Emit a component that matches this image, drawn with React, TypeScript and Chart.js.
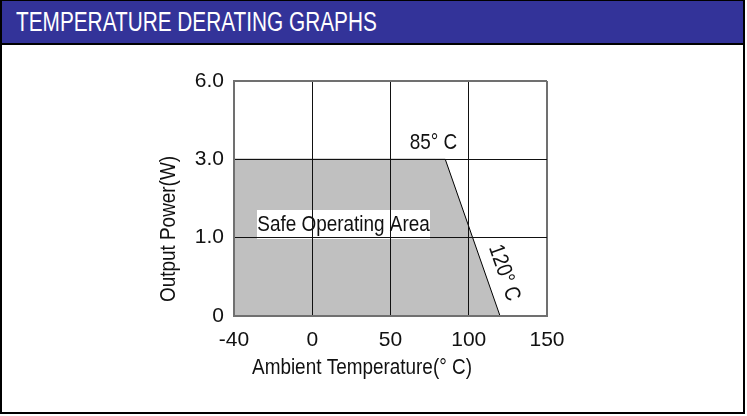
import React, { useEffect, useRef } from 'react';
import { Chart, registerables } from 'chart.js';

Chart.register(...registerables);

// ---- data ----
const TEMP_TICKS = [-40, 0, 50, 100, 150];
const TEMP_TICK_LABELS = ['-40', '0', '50', '100', '150'];
const POWER_TICKS = [0, 1, 3, 6];
const POWER_TICK_LABELS = ['0', '1.0', '3.0', '6.0'];
const DERATING_TEMPS = [-40, 85, 120];
const DERATING_POWER = [3, 3, 0];

const TITLE = 'TEMPERATURE DERATING GRAPHS';
const X_TITLE = 'Ambient Temperature(° C)';
const Y_TITLE = 'Output Power(W)';
const AREA_LABEL = 'Safe Operating Area';
const KNEE_LABEL = '85° C';
const END_LABEL = '120° C';

const FONT = '"Liberation Sans", Arial, Helvetica, sans-serif';
const SQUEEZE = 0.86;

// piecewise-linear position of a value on an axis whose ticks are evenly spaced
function toIndex(v: number, ticks: number[]): number {
  for (let i = 0; i < ticks.length - 1; i++) {
    if (v <= ticks[i + 1] || i === ticks.length - 2) {
      return i + (v - ticks[i]) / (ticks[i + 1] - ticks[i]);
    }
  }
  return ticks.length - 1;
}

function narrowText(ctx: CanvasRenderingContext2D, text: string, x: number, y: number, rot = 0) {
  ctx.save();
  ctx.translate(x, y);
  if (rot) ctx.rotate(rot);
  ctx.scale(SQUEEZE, 1);
  ctx.fillText(text, 0, 0);
  ctx.restore();
}

const labelsPlugin = {
  id: 'deratingLabels',
  afterDatasetsDraw(chart: any) {
    const { ctx, chartArea: ca } = chart;
    ctx.save();
    // white box behind "Safe Operating Area" (grid lines drawn over it)
    const bx = ca.left + 23;
    const by = ca.top + 129;
    ctx.fillStyle = '#ffffff';
    ctx.fillRect(bx, by, 173, 29);
    ctx.fillStyle = '#111';
    ctx.font = `22px ${FONT}`;
    ctx.textAlign = 'center';
    ctx.textBaseline = 'middle';
    narrowText(ctx, AREA_LABEL, bx + 86.5, by + 15);
    ctx.restore();
  },
  afterDraw(chart: any) {
    const { ctx, chartArea: ca, scales } = chart;
    ctx.save();
    ctx.fillStyle = '#111';
    ctx.font = `22px ${FONT}`;
    ctx.textAlign = 'center';
    ctx.textBaseline = 'middle';
    narrowText(ctx, X_TITLE, ca.left + 128, ca.bottom + 52);
    narrowText(ctx, Y_TITLE, ca.left - 65, ca.top + 148, -Math.PI / 2);
    narrowText(ctx, KNEE_LABEL, ca.left + 199.5, ca.top + 61.5);
    const x1 = scales.x.getPixelForValue(toIndex(DERATING_TEMPS[1], TEMP_TICKS));
    const y1 = scales.y.getPixelForValue(toIndex(DERATING_POWER[1], POWER_TICKS));
    const x2 = scales.x.getPixelForValue(toIndex(DERATING_TEMPS[2], TEMP_TICKS));
    const y2 = scales.y.getPixelForValue(toIndex(DERATING_POWER[2], POWER_TICKS));
    const ang = Math.atan2(y2 - y1, x2 - x1);
    narrowText(ctx, END_LABEL, ca.left + 270, ca.top + 192, ang);
    ctx.restore();
  },
};

export default function App() {
  const ref = useRef<HTMLCanvasElement | null>(null);

  useEffect(() => {
    document.body.style.margin = '0';
    if (!ref.current) return;
    const points = DERATING_TEMPS.map((t, i) => ({
      x: toIndex(t, TEMP_TICKS),
      y: toIndex(DERATING_POWER[i], POWER_TICKS),
    }));
    const lastX = TEMP_TICKS.length - 1;
    const lastY = POWER_TICKS.length - 1;
    const chart = new Chart(ref.current, {
      type: 'line',
      data: {
        datasets: [
          {
            data: points,
            borderColor: '#000',
            borderWidth: 1,
            backgroundColor: '#c0c0c0',
            fill: 'origin',
            pointRadius: 0,
            tension: 0,
          },
        ],
      },
      options: {
        responsive: false,
        animation: false,
        devicePixelRatio: 1,
        layout: { padding: { left: 0, top: 81, right: 200, bottom: 0 } },
        plugins: { legend: { display: false }, tooltip: { enabled: false } },
        scales: {
          x: {
            type: 'linear',
            min: 0,
            max: lastX,
            z: 1,
            ticks: {
              stepSize: 1,
              autoSkip: false,
              maxRotation: 0,
              padding: 12,
              color: '#111',
              font: { size: 21, family: FONT },
              callback: (v: any) => TEMP_TICK_LABELS[Math.round(v)] ?? '',
            },
            grid: {
              z: 1,
              drawTicks: false,
              color: (c: any) => (c.index === 0 || c.index === lastX ? '#707070' : '#111'),
              lineWidth: (c: any) => (c.index === 0 || c.index === lastX ? 2 : 1),
            },
            border: { display: true, color: '#707070', width: 2, z: 1 },
            afterFit: (s: any) => {
              s.height = 100;
            },
          },
          y: {
            type: 'linear',
            min: 0,
            max: lastY,
            z: 1,
            ticks: {
              stepSize: 1,
              autoSkip: false,
              padding: 10,
              color: '#111',
              font: { size: 21, family: FONT },
              callback: (v: any) => POWER_TICK_LABELS[Math.round(v)] ?? '',
            },
            grid: {
              z: 1,
              drawTicks: false,
              color: (c: any) => (c.index === 0 || c.index === lastY ? '#707070' : '#111'),
              lineWidth: (c: any) => (c.index === 0 || c.index === lastY ? 2 : 1),
            },
            border: { display: true, color: '#707070', width: 2, z: 1 },
            afterFit: (s: any) => {
              s.width = 234;
            },
          },
        },
      },
      plugins: [labelsPlugin],
    } as any);
    return () => chart.destroy();
  }, []);

  return (
    <div style={{ position: 'relative', width: 747, height: 416, background: '#fff' }}>
      <div
        style={{
          position: 'absolute',
          left: 0,
          top: 0,
          width: 745,
          height: 414,
          boxSizing: 'border-box',
          border: '2px solid #000',
          borderTopWidth: 1,
          overflow: 'hidden',
        }}
      >
        <div
          style={{
            height: 42,
            background: '#333399',
            borderBottom: '2px solid #000',
            boxSizing: 'content-box',
            position: 'relative',
          }}
        >
          <div
            style={{
              position: 'absolute',
              left: 14,
              top: 0,
              color: '#fff',
              fontFamily: FONT,
              fontSize: 27,
              lineHeight: '43px',
              whiteSpace: 'nowrap',
              transform: 'scaleX(0.77)',
              transformOrigin: 'left center',
            }}
          >
            {TITLE}
          </div>
        </div>
      </div>
      <canvas
        ref={ref}
        width={747}
        height={416}
        style={{ position: 'absolute', left: 0, top: 0, width: 747, height: 416 }}
      />
    </div>
  );
}
